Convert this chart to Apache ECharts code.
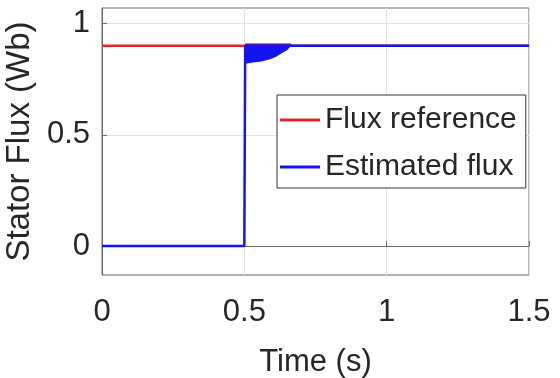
<!DOCTYPE html>
<html>
<head>
<meta charset="utf-8">
<script src="https://cdn.jsdelivr.net/npm/echarts@6/dist/echarts.min.js"></script>
<style>
  html, body { margin: 0; padding: 0; background: #fff; }
  #chart { width: 560px; height: 378px; }
</style>
</head>
<body>
<div id="chart"></div>
<script>
// flux reference (t, value)
var refData = [[0, 0.9], [1.5, 0.9]];
// estimated flux main trace
var estData = [[0, 0], [0.5, 0], [0.503, 0.9], [1.5, 0.9]];
// envelope of the oscillation right after the step
var bandT = [0.503, 0.53, 0.56, 0.59, 0.61, 0.63, 0.65, 0.665];
var bandLow = [0.82, 0.825, 0.83, 0.84, 0.85, 0.865, 0.88, 0.9];
var bandHigh = [0.91, 0.91, 0.91, 0.91, 0.91, 0.91, 0.91, 0.91];
var yTicks = [0, 0.5, 1];

var font = 'Liberation Sans, Arial, sans-serif';
var textColor = '#262626';
var axisColor = '#6a6a6a';
var blue = '#1414f0';

var bandData = bandT.map(function (t, i) { return [t, bandLow[i], bandHigh[i]]; });

// whole envelope as one polygon: lower edge forward, upper edge back
function renderBand(params, api) {
    if (params.dataIndex !== 0) return;
    var pts = [];
    bandData.forEach(function (d) { pts.push(api.coord([d[0], d[1]])); });
    for (var i = bandData.length - 1; i >= 0; i--) {
        pts.push(api.coord([bandData[i][0], bandData[i][2]]));
    }
    return {
        type: 'polygon',
        shape: { points: pts },
        style: { fill: blue }
    };
}

var myChart = echarts.init(document.getElementById('chart'));
myChart.setOption({
    animation: false,
    grid: {
        left: 102, right: 31, top: 8, bottom: 103,
        outerBoundsMode: 'none',
        show: true, borderColor: axisColor, borderWidth: 1
    },
    legend: {
        orient: 'vertical',
        left: 277, top: 95,
        padding: [10, 9, 6, 3],
        itemGap: 17,
        itemWidth: 40, itemHeight: 3,
        icon: 'rect',
        backgroundColor: '#fff',
        borderColor: '#333', borderWidth: 1,
        textStyle: { fontFamily: font, fontSize: 30, color: textColor },
        data: ['Flux reference', 'Estimated flux']
    },
    xAxis: {
        type: 'value',
        min: 0, max: 1.5, interval: 0.5,
        name: 'Time (s)',
        nameLocation: 'middle',
        nameGap: 72,
        nameTextStyle: { fontFamily: font, fontSize: 31, color: textColor },
        axisLine: { lineStyle: { color: axisColor } },
        axisTick: { inside: true, length: 5, lineStyle: { color: axisColor } },
        axisLabel: { fontFamily: font, fontSize: 31, color: textColor, margin: 22 },
        splitLine: { show: true, lineStyle: { color: '#e2e2e2' } }
    },
    yAxis: {
        type: 'value',
        min: -0.13, max: 1.07,
        name: 'Stator Flux (Wb)',
        nameLocation: 'middle',
        nameGap: 59,
        nameTextStyle: { fontFamily: font, fontSize: 33, color: textColor },
        axisLine: { show: true, lineStyle: { color: axisColor } },
        axisTick: { inside: true, length: 5, customValues: yTicks, lineStyle: { color: axisColor } },
        axisLabel: {
            fontFamily: font, fontSize: 31, color: textColor, margin: 12,
            customValues: yTicks,
            formatter: function (v) { return String(v); }
        },
        splitLine: { show: true, lineStyle: { color: '#e2e2e2' } }
    },
    series: [
        {
            name: 'Flux reference',
            type: 'line',
            showSymbol: false,
            color: '#e8262a',
            lineStyle: { width: 2.5 },
            data: refData
        },
        {
            name: 'band',
            type: 'custom',
            silent: true,
            renderItem: renderBand,
            encode: { x: 0, y: [1, 2] },
            data: bandData
        },
        {
            name: 'Estimated flux',
            type: 'line',
            showSymbol: false,
            color: blue,
            lineStyle: { width: 2.5 },
            data: estData
        }
    ]
});
</script>
</body>
</html>
